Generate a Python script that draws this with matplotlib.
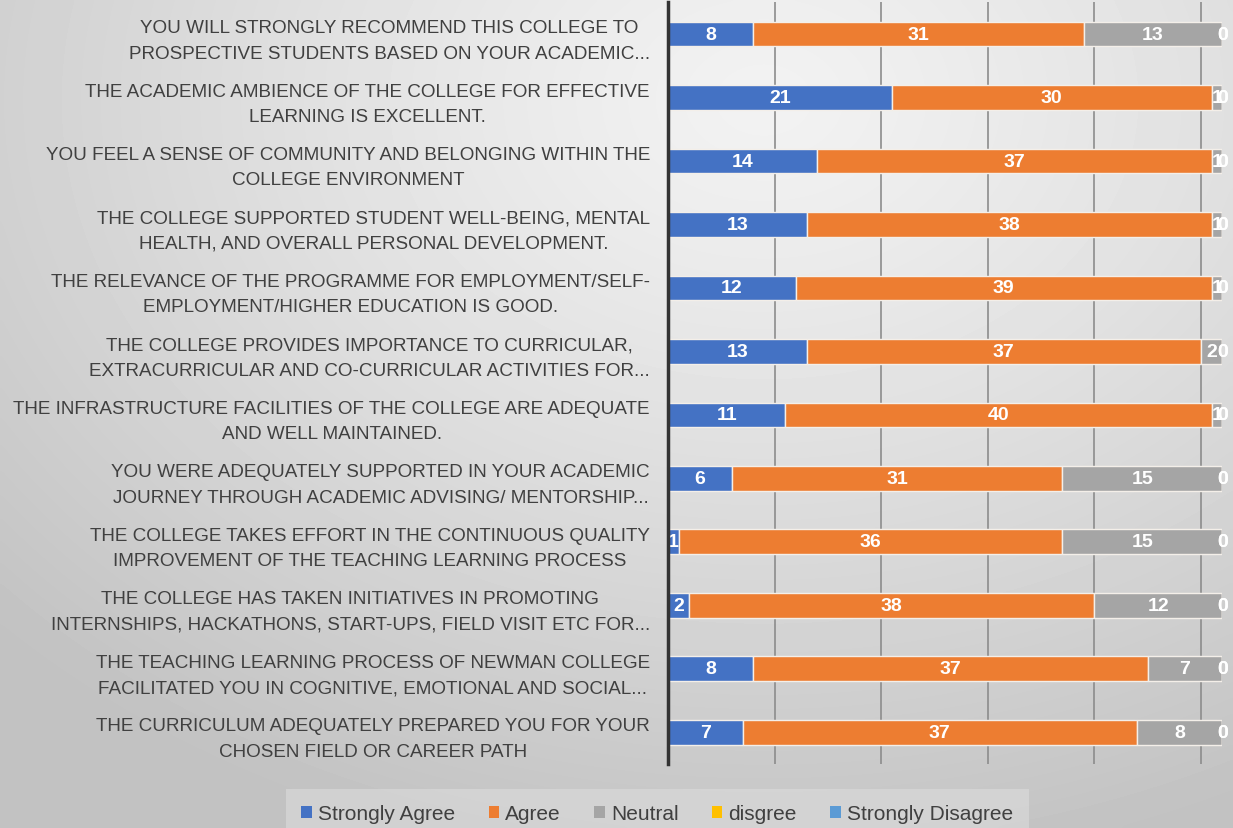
#!/usr/bin/env python
'''
Stacked horizontal bar chart of student feedback survey
'''

import numpy as np
import matplotlib.pyplot as plt

categories = [
    'YOU WILL STRONGLY RECOMMEND THIS COLLEGE TO\nPROSPECTIVE STUDENTS BASED ON YOUR ACADEMIC...',
    'THE ACADEMIC AMBIENCE OF THE COLLEGE FOR EFFECTIVE\nLEARNING IS EXCELLENT.',
    'YOU FEEL A SENSE OF COMMUNITY AND BELONGING WITHIN THE\nCOLLEGE ENVIRONMENT',
    'THE COLLEGE SUPPORTED STUDENT WELL-BEING, MENTAL\nHEALTH, AND OVERALL PERSONAL DEVELOPMENT.',
    'THE RELEVANCE OF THE PROGRAMME FOR EMPLOYMENT/SELF-\nEMPLOYMENT/HIGHER EDUCATION IS GOOD.',
    'THE COLLEGE PROVIDES IMPORTANCE TO CURRICULAR,\nEXTRACURRICULAR AND CO-CURRICULAR ACTIVITIES FOR...',
    'THE INFRASTRUCTURE FACILITIES OF THE COLLEGE ARE ADEQUATE\nAND WELL MAINTAINED.',
    'YOU WERE ADEQUATELY SUPPORTED IN YOUR ACADEMIC\nJOURNEY THROUGH ACADEMIC ADVISING/ MENTORSHIP...',
    'THE COLLEGE TAKES EFFORT IN THE CONTINUOUS QUALITY\nIMPROVEMENT OF THE TEACHING LEARNING PROCESS',
    'THE COLLEGE HAS TAKEN INITIATIVES IN PROMOTING\nINTERNSHIPS, HACKATHONS, START-UPS, FIELD VISIT ETC FOR...',
    'THE TEACHING LEARNING PROCESS OF NEWMAN COLLEGE\nFACILITATED YOU IN COGNITIVE, EMOTIONAL AND SOCIAL...',
    'THE CURRICULUM ADEQUATELY PREPARED YOU FOR YOUR\nCHOSEN FIELD OR CAREER PATH',
]

series_names = ['Strongly Agree', 'Agree', 'Neutral', 'disgree', 'Strongly Disagree']
strongly_agree = [8, 21, 14, 13, 12, 13, 11, 6, 1, 2, 8, 7]
agree = [31, 30, 37, 38, 39, 37, 40, 31, 36, 38, 37, 37]
neutral = [13, 1, 1, 1, 1, 2, 1, 15, 15, 12, 7, 8]
disagree = [0, 0, 0, 0, 0, 0, 0, 0, 0, 0, 0, 0]
strongly_disagree = [0, 0, 0, 0, 0, 0, 0, 0, 0, 0, 0, 0]

colors = ['#4472C4', '#ED7D31', '#A5A5A5', '#FFC000', '#5B9BD5']

label_font = 'Liberation Sans'


def main():
    fig = plt.figure(figsize=(12.33, 8.29), dpi=100)

    # gradient background
    bg = fig.add_axes([0, 0, 1, 1], zorder=-10)
    yy, xx = np.mgrid[0:1:200j, 0:1:300j]
    dist = np.sqrt(((xx - 0.62) * 1.0) ** 2 + ((yy - 0.12) * 0.9) ** 2)
    shade = 0.95 - 0.19 * np.clip(dist / 0.85, 0, 1) ** 1.2
    bg.imshow(shade, cmap='gray', vmin=0, vmax=1, aspect='auto',
              extent=[0, 1, 1, 0], interpolation='bicubic')
    bg.axis('off')

    ax = fig.add_axes([0.5418, 0.0772, 0.4495, 0.9188])
    ax.patch.set_alpha(0)

    data = [strongly_agree, agree, neutral, disagree, strongly_disagree]
    y = np.arange(len(categories))
    left = np.zeros(len(categories))
    for name, vals, col in zip(series_names, data, colors):
        vals = np.array(vals, dtype=float)
        ax.barh(y, vals, left=left, height=0.39, color=col, label=name,
                edgecolor='#f4efe9', linewidth=1.0, zorder=3)
        for yi, l, v in zip(y, left, vals):
            ax.text(l + v / 2, yi, '{:d}'.format(int(v)), ha='center', va='center',
                    color='white', fontsize=14, fontweight='bold',
                    family='Liberation Sans', zorder=4)
        left += vals

    ax.set_xlim(0, 52)
    ax.set_ylim(len(categories) - 0.5, -0.5)
    ax.set_yticks(y)
    ax.set_yticklabels(categories, fontsize=13.6, color='#404040',
                       family=label_font, multialignment='center',
                       linespacing=1.65)
    ax.tick_params(axis='y', length=0, pad=13)
    ax.set_xticks([10, 20, 30, 40, 50])
    ax.tick_params(axis='x', length=0, labelbottom=False)
    ax.grid(axis='x', color='#8c8c8c', linewidth=1.2, zorder=0)
    for s in ['top', 'right', 'bottom']:
        ax.spines[s].set_visible(False)
    ax.spines['left'].set_color('#333333')
    ax.spines['left'].set_linewidth(2.5)
    ax.spines['left'].set_zorder(5)

    leg = fig.legend(loc='lower center', bbox_to_anchor=(0.533, -0.018), ncol=5,
                     frameon=True, handlelength=0.5, handleheight=0.5,
                     handletextpad=0.3, columnspacing=1.6, borderpad=0.45,
                     prop={'family': label_font, 'size': 15})
    leg.get_frame().set_facecolor('#dcdcdc')
    leg.get_frame().set_edgecolor('none')
    leg.get_frame().set_alpha(0.6)
    leg.get_frame().set_boxstyle('square')
    for t in leg.get_texts():
        t.set_color('#404040')
    for h in leg.legend_handles:
        h.set_edgecolor('none')

    fig.savefig('out.png', dpi=100)
    plt.close(fig)


if __name__ == '__main__':
    main()
